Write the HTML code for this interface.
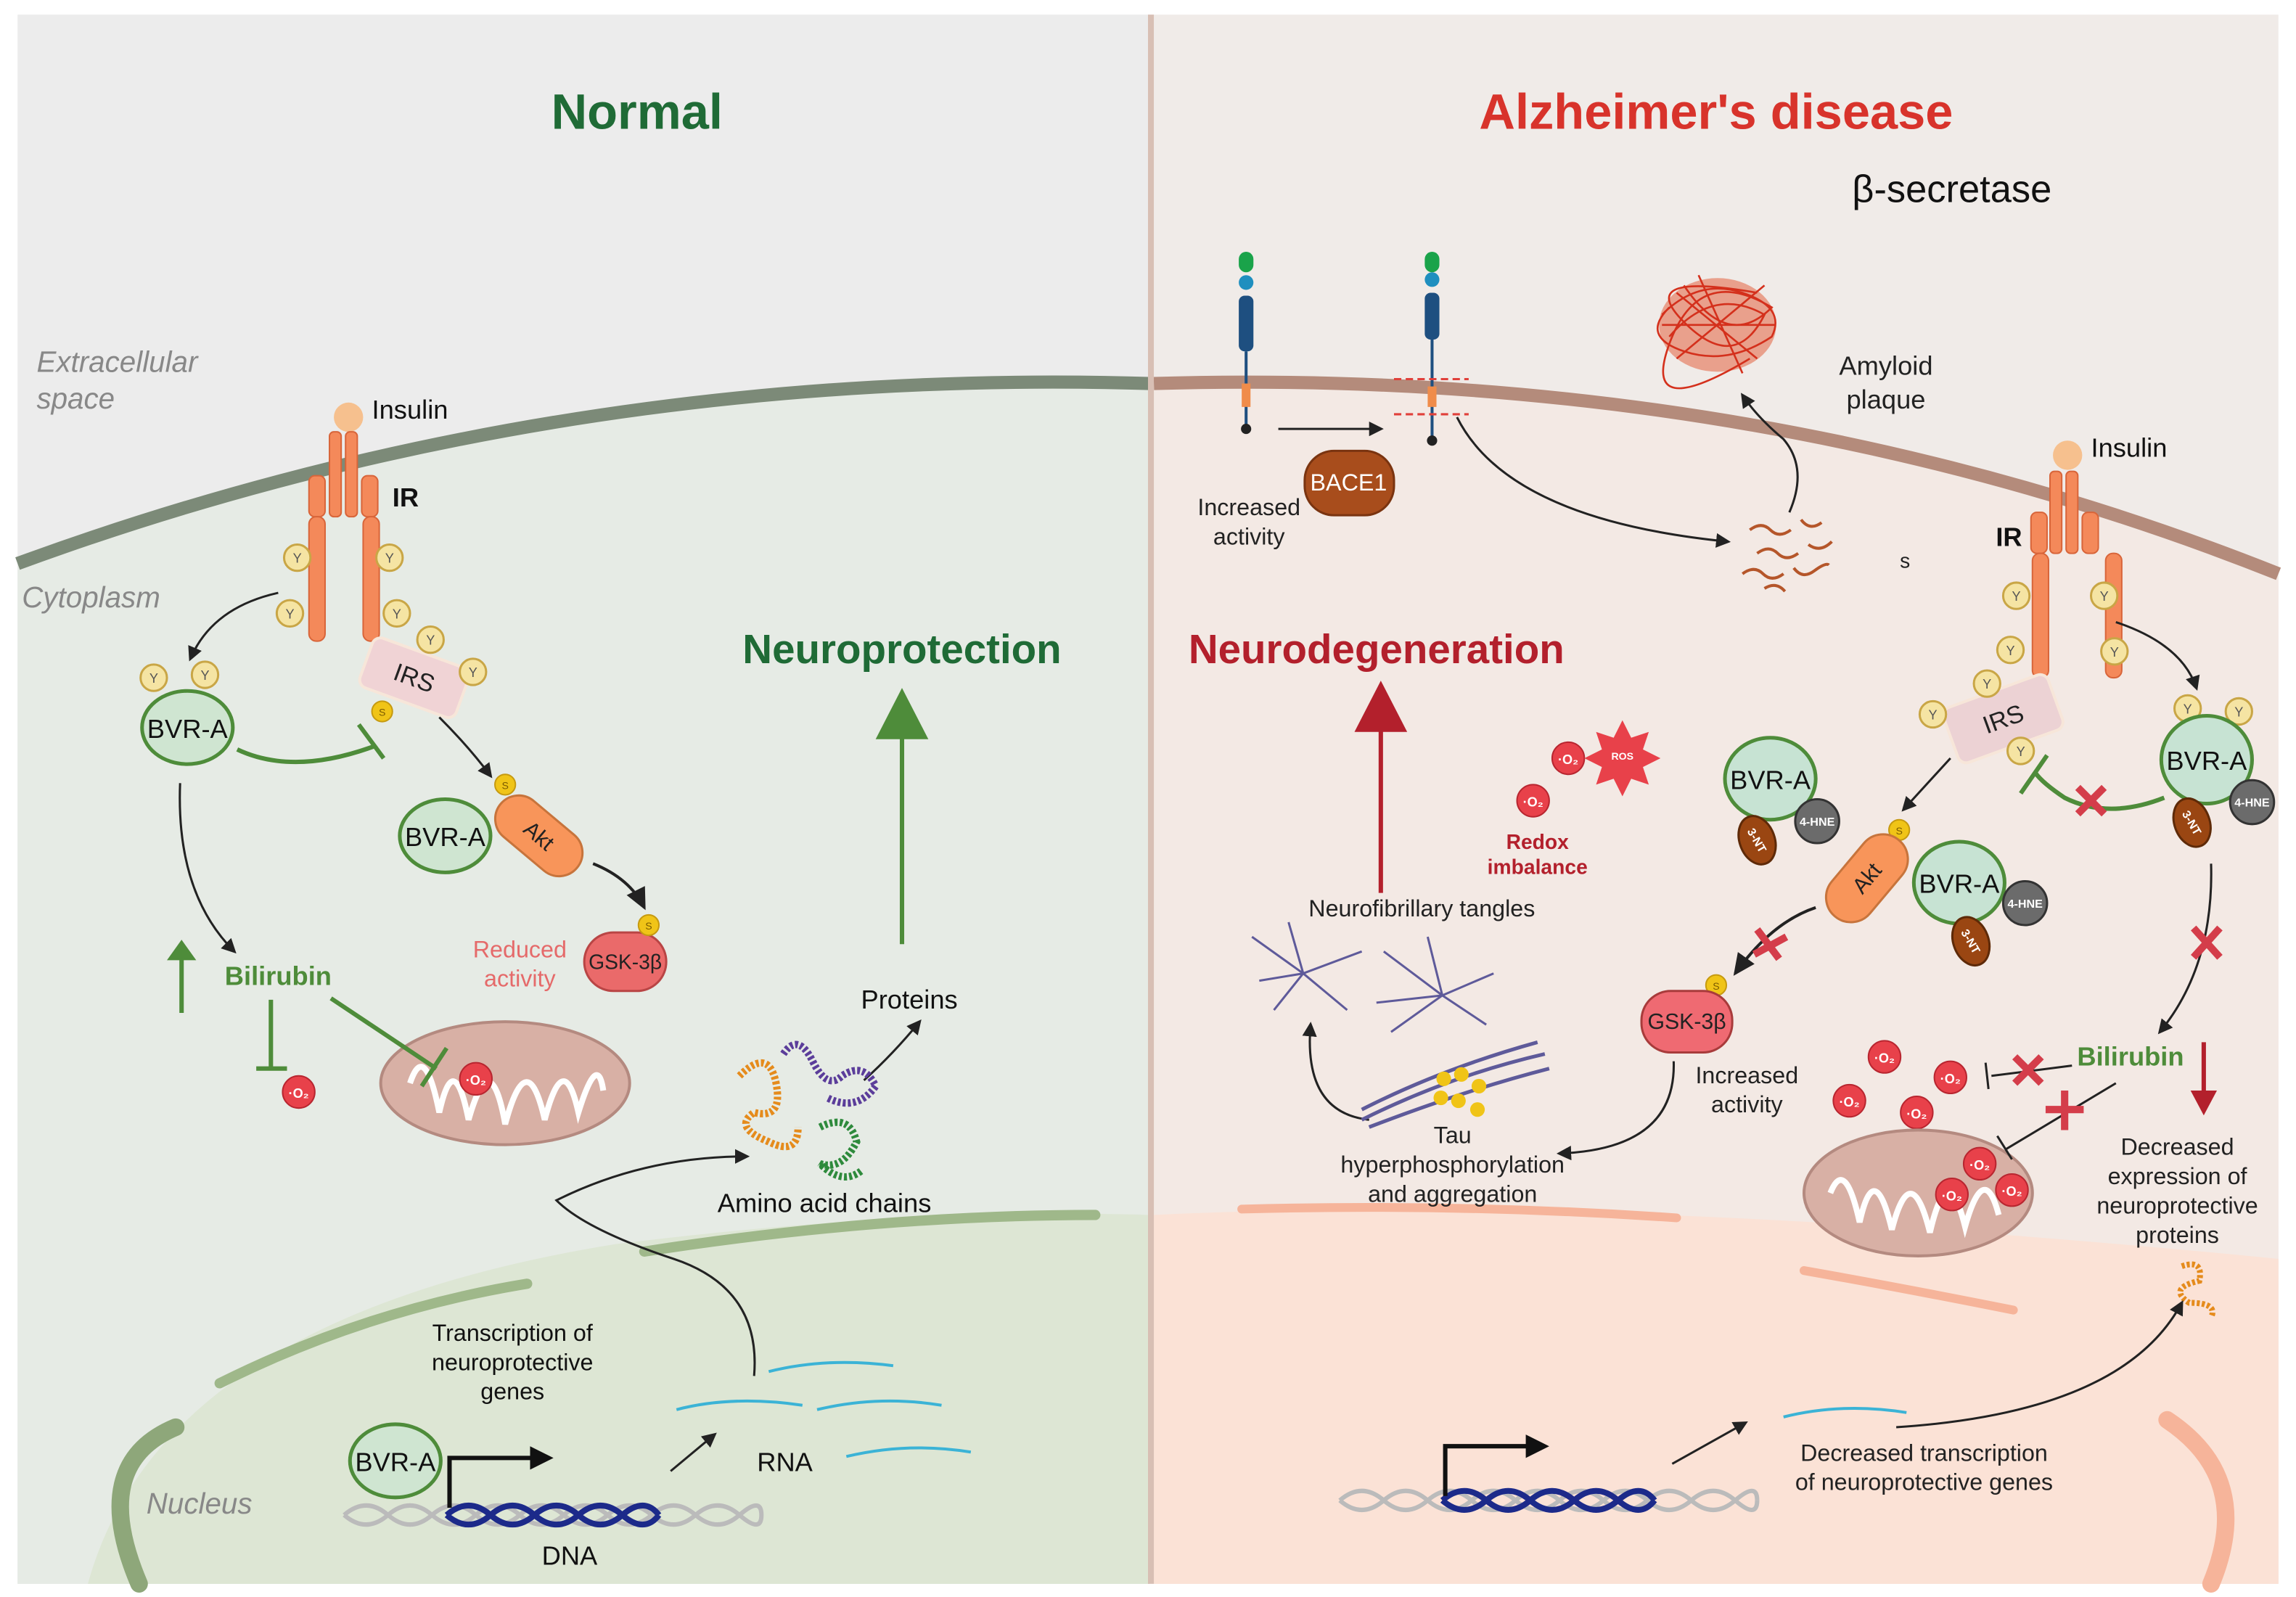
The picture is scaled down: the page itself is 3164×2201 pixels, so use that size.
<!DOCTYPE html>
<html><head><meta charset="utf-8"><style>
html,body{margin:0;padding:0;background:#fff;}
svg{display:block;font-family:"Liberation Sans",sans-serif;}
</style></head><body>
<svg width="3164" height="2201" viewBox="0 0 1568 1091" preserveAspectRatio="none" xmlns="http://www.w3.org/2000/svg">
<defs>
<marker id="ar" markerWidth="10" markerHeight="10" refX="8" refY="5" orient="auto" markerUnits="userSpaceOnUse"><path d="M0,0 L10,5 L0,10 z" fill="#222"/></marker>
<marker id="arb" markerWidth="16" markerHeight="16" refX="13" refY="8" orient="auto" markerUnits="userSpaceOnUse"><path d="M0,1 L15,8 L0,15 z" fill="#222"/></marker>
<g id="Y"><circle r="9" fill="#f5e4a3" stroke="#c9a646" stroke-width="1.5"/><text y="3.5" font-size="9" text-anchor="middle" fill="#555">Y</text></g>
<g id="S"><circle r="7" fill="#f0c417" stroke="#c69a10"/><text y="3" font-size="7" text-anchor="middle" fill="#7a5a00">S</text></g>
<g id="O2"><circle r="11" fill="#e8414a" stroke="#b82630"/><text y="4" font-size="9" text-anchor="middle" fill="#fff" font-weight="bold">·O₂</text></g>
</defs>
<rect width="1568" height="1091" fill="#fff"/>
<!-- LEFT panel -->
<rect x="12" y="10" width="773" height="1072" fill="#ececec"/>
<path d="M12,385 Q380,250 785,262 L785,1082 L12,1082 Z" fill="#e6ebe5"/>
<path d="M12,385 Q380,250 785,262" fill="none" stroke="#7c8a78" stroke-width="9"/>
<path d="M60,1082 Q110,900 420,850 Q620,825 785,830 L785,1082 Z" fill="#dde6d4"/>
<path d="M95,1082 Q60,1000 120,975" fill="none" stroke="#8ea77a" stroke-width="12" stroke-linecap="round"/>
<path d="M150,945 Q250,895 360,877" fill="none" stroke="#9fb88a" stroke-width="7" stroke-linecap="round"/>
<path d="M440,855 Q600,830 748,830" fill="none" stroke="#9fb88a" stroke-width="7" stroke-linecap="round"/>
<!-- RIGHT panel -->
<rect x="788" y="10" width="768" height="1072" fill="#f0ebe8"/>
<path d="M788,262 Q1200,250 1556,392 L1556,1082 L788,1082 Z" fill="#f3e9e4"/>
<path d="M788,262 Q1200,250 1556,392" fill="none" stroke="#b48b7b" stroke-width="9"/>
<path d="M788,830 Q1100,815 1556,860 L1556,1082 L788,1082 Z" fill="#fbe2d6"/>
<path d="M848,826 Q1000,822 1145,832" fill="none" stroke="#f6b49a" stroke-width="6" stroke-linecap="round"/>
<path d="M1232,868 Q1300,880 1375,895" fill="none" stroke="#f6b49a" stroke-width="6" stroke-linecap="round"/>
<path d="M1480,970 Q1540,1010 1510,1082" fill="none" stroke="#f6b49a" stroke-width="12" stroke-linecap="round"/>
<line x1="786" y1="10" x2="786" y2="1082" stroke="#d8bfb4" stroke-width="4"/>

<!-- Titles -->
<text x="435" y="88" font-size="34" font-weight="bold" fill="#1f6b36" text-anchor="middle">Normal</text>
<text x="1172" y="88" font-size="34" font-weight="bold" fill="#d8332b" text-anchor="middle">Alzheimer's disease</text>
<text x="1333" y="138" font-size="26" fill="#111" text-anchor="middle">β-secretase</text>
<text x="616" y="453" font-size="28" font-weight="bold" fill="#1f6b36" text-anchor="middle">Neuroprotection</text>
<text x="940" y="453" font-size="28" font-weight="bold" fill="#b3202c" text-anchor="middle">Neurodegeneration</text>

<!-- LEFT labels -->
<g font-style="italic" fill="#888" font-size="20">
<text x="25" y="254">Extracellular</text><text x="25" y="279">space</text>
<text x="15" y="415">Cytoplasm</text>
<text x="100" y="1034">Nucleus</text></g>

<!-- left receptor -->
<circle cx="238" cy="285" r="10" fill="#f6c08e"/>
<text x="254" y="286" font-size="18" fill="#111">Insulin</text>
<text x="268" y="346" font-size="18" font-weight="bold" fill="#111">IR</text>
<g fill="#f4895a" stroke="#d8653a" stroke-width="1">
<rect x="225" y="295" width="8" height="58" rx="3"/><rect x="236" y="295" width="8" height="58" rx="3"/>
<rect x="211" y="325" width="11" height="28" rx="4"/><rect x="247" y="325" width="11" height="28" rx="4"/>
<rect x="211" y="353" width="11" height="85" rx="5"/><rect x="248" y="353" width="11" height="85" rx="5"/></g>
<use href="#Y" x="203" y="381"/><use href="#Y" x="266" y="381"/><use href="#Y" x="198" y="419"/><use href="#Y" x="271" y="419"/>
<g transform="translate(283,463) rotate(20)"><rect x="-35" y="-18" width="70" height="36" rx="6" fill="#f0d3d5" stroke="#f7e6d9" stroke-width="2"/><text y="6" font-size="17" text-anchor="middle" fill="#222">IRS</text></g>
<use href="#Y" x="294" y="437"/><use href="#Y" x="323" y="459"/><use href="#S" x="261" y="486"/>
<path d="M190,405 Q145,415 130,450" fill="none" stroke="#222" stroke-width="1.5" marker-end="url(#ar)"/>
<use href="#Y" x="105" y="463"/><use href="#Y" x="140" y="461"/>
<ellipse cx="128" cy="497" rx="31" ry="25" fill="#cfe5d1" stroke="#4e8c3a" stroke-width="2.5"/>
<text x="128" y="504" font-size="18" text-anchor="middle" fill="#111">BVR-A</text>
<path d="M162,512 Q200,530 255,510" fill="none" stroke="#4e8c3a" stroke-width="3"/>
<line x1="245" y1="495" x2="262" y2="518" stroke="#4e8c3a" stroke-width="3"/>
<path d="M300,490 Q320,510 335,530" fill="none" stroke="#222" stroke-width="1.5" marker-end="url(#ar)"/>
<ellipse cx="304" cy="571" rx="31" ry="25" fill="#cfe5d1" stroke="#4e8c3a" stroke-width="2.5"/>
<text x="304" y="578" font-size="18" text-anchor="middle" fill="#111">BVR-A</text>
<g transform="translate(368,571) rotate(40)"><rect x="-34" y="-16" width="68" height="32" rx="16" fill="#f8955a" stroke="#c7743c" stroke-width="1.5"/><text y="5" font-size="15" text-anchor="middle" fill="#222">Akt</text></g>
<use href="#S" x="345" y="536"/>
<path d="M405,590 Q430,600 440,620" fill="none" stroke="#222" stroke-width="2" marker-end="url(#arb)"/>
<rect x="399" y="637" width="56" height="40" rx="20" fill="#ea6a6a" stroke="#b94545" stroke-width="1.5"/>
<text x="427" y="662" font-size="14" text-anchor="middle" fill="#222">GSK-3β</text>
<use href="#S" x="443" y="632"/>
<text x="355" y="654" font-size="16" fill="#e56a6a" text-anchor="middle">Reduced</text>
<text x="355" y="674" font-size="16" fill="#e56a6a" text-anchor="middle">activity</text>
<path d="M123,535 Q120,610 160,650" fill="none" stroke="#222" stroke-width="1.5" marker-end="url(#ar)"/>
<text x="190" y="673" font-size="18" font-weight="bold" fill="#4e8c3a" text-anchor="middle">Bilirubin</text>
<line x1="124" y1="692" x2="124" y2="650" stroke="#4e8c3a" stroke-width="3"/>
<path d="M114,656 L124,642 L134,656 z" fill="#4e8c3a"/>
<line x1="185" y1="683" x2="185" y2="730" stroke="#4e8c3a" stroke-width="3"/>
<line x1="175" y1="730" x2="196" y2="730" stroke="#4e8c3a" stroke-width="3"/>
<use href="#O2" x="204" y="746"/>
<ellipse cx="345" cy="740" rx="85" ry="42" fill="#d8b0a5" stroke="#b48a80" stroke-width="2"/>
<path d="M280,740 Q290,710 300,760 Q310,715 320,765 Q335,712 345,768 Q360,712 372,765 Q385,715 395,760 Q408,718 412,745" fill="none" stroke="#fff" stroke-width="4"/>
<line x1="226" y1="682" x2="298" y2="730" stroke="#4e8c3a" stroke-width="3"/>
<line x1="288" y1="742" x2="305" y2="716" stroke="#4e8c3a" stroke-width="3"/>
<use href="#O2" x="325" y="737"/>
<!-- neuroprotection arrow -->
<line x1="616" y1="645" x2="616" y2="495" stroke="#4e8c3a" stroke-width="3"/>
<path d="M598,505 L616,470 L634,505 z" fill="#4e8c3a"/>
<text x="621" y="689" font-size="18" fill="#111" text-anchor="middle">Proteins</text>
<path d="M590,738 Q610,720 628,698" fill="none" stroke="#222" stroke-width="1.5" marker-end="url(#ar)"/>
<g fill="none" stroke-width="5" stroke-dasharray="2 1.5">
<path d="M505,735 Q525,715 530,740 Q535,765 515,760 Q500,770 525,780 Q545,790 545,770" stroke="#e58b1c"/>
<path d="M535,720 Q545,705 555,725 Q565,745 575,735 Q590,725 598,742 Q585,760 565,750" stroke="#5b3d9a"/>
<path d="M560,770 Q580,760 585,780 Q575,800 560,795 Q575,810 588,800" stroke="#2e8a3c"/></g>
<text x="563" y="828" font-size="18" fill="#111" text-anchor="middle">Amino acid chains</text>
<!-- nucleus left -->
<text x="350" y="916" font-size="16" fill="#111" text-anchor="middle">Transcription of</text>
<text x="350" y="936" font-size="16" fill="#111" text-anchor="middle">neuroprotective</text>
<text x="350" y="956" font-size="16" fill="#111" text-anchor="middle">genes</text>
<path d="M515,940 Q520,880 460,860 Q400,840 380,820 Q440,790 510,790" fill="none" stroke="#222" stroke-width="1.5" marker-end="url(#ar)"/>
<g fill="none" stroke-width="3">
<path d="M235,1035 Q250,1022 265,1035 T295,1035 T325,1035 T355,1035 T385,1035 T415,1035 T445,1035 T475,1035 T505,1035 T520,1035" stroke="#bbb"/>
<path d="M235,1035 Q250,1048 265,1035 T295,1035 T325,1035 T355,1035 T385,1035 T415,1035 T445,1035 T475,1035 T505,1035 T520,1035" stroke="#bbb"/>
<path d="M305,1035 Q320,1022 335,1035 T365,1035 T395,1035 T425,1035 T450,1035" stroke="#1c2a8a" stroke-width="4"/>
<path d="M305,1035 Q320,1048 335,1035 T365,1035 T395,1035 T425,1035 T450,1035" stroke="#1c2a8a" stroke-width="4"/></g>
<ellipse cx="270" cy="998" rx="31" ry="25" fill="#cfe5d1" stroke="#4e8c3a" stroke-width="2.5"/>
<text x="270" y="1005" font-size="18" text-anchor="middle" fill="#111">BVR-A</text>
<path d="M307,1030 L307,996 L365,996" fill="none" stroke="#111" stroke-width="3"/>
<path d="M362,988 L378,996 L362,1004 z" fill="#111"/>
<text x="389" y="1069" font-size="18" fill="#111" text-anchor="middle">DNA</text>
<path d="M458,1005 L488,980" stroke="#222" stroke-width="1.5" marker-end="url(#ar)"/>
<text x="536" y="1005" font-size="18" fill="#111" text-anchor="middle">RNA</text>
<g fill="none" stroke="#3bb3d6" stroke-width="2">
<path d="M525,937 Q565,927 610,933"/><path d="M462,963 Q500,953 548,960"/><path d="M558,963 Q600,953 643,960"/><path d="M578,995 Q620,985 663,992"/></g>

<!-- RIGHT -->
<!-- APP receptors -->
<g>
<rect x="846" y="172" width="10" height="14" rx="5" fill="#1aa34a"/><circle cx="851" cy="193" r="5" fill="#1f8fbf"/><rect x="846" y="202" width="10" height="38" rx="4" fill="#1e4f80"/>
<line x1="851" y1="240" x2="851" y2="292" stroke="#1e4f80" stroke-width="2"/><rect x="848" y="262" width="6" height="16" fill="#f08c4a"/><circle cx="851" cy="293" r="3.5" fill="#222"/>
<rect x="973" y="172" width="10" height="14" rx="5" fill="#1aa34a"/><circle cx="978" cy="191" r="5" fill="#1f8fbf"/><rect x="973" y="200" width="10" height="32" rx="4" fill="#1e4f80"/>
<line x1="978" y1="232" x2="978" y2="300" stroke="#1e4f80" stroke-width="2"/><rect x="975" y="264" width="6" height="14" fill="#f08c4a"/><circle cx="978" cy="301" r="3.5" fill="#222"/>
<line x1="952" y1="259" x2="1003" y2="259" stroke="#e0403a" stroke-width="1.5" stroke-dasharray="5 3"/>
<line x1="952" y1="283" x2="1003" y2="283" stroke="#e0403a" stroke-width="1.5" stroke-dasharray="5 3"/></g>
<line x1="873" y1="293" x2="943" y2="293" stroke="#222" stroke-width="1.5" marker-end="url(#ar)"/>
<rect x="891" y="308" width="61" height="44" rx="20" fill="#a84d1c" stroke="#7a3410" stroke-width="1.5"/>
<text x="921" y="335" font-size="16" fill="#fff" text-anchor="middle">BACE1</text>
<text x="853" y="352" font-size="16" fill="#222" text-anchor="middle">Increased</text>
<text x="853" y="372" font-size="16" fill="#222" text-anchor="middle">activity</text>
<path d="M995,285 Q1030,355 1180,370" fill="none" stroke="#222" stroke-width="1.5" marker-end="url(#ar)"/>
<g stroke="#b5562a" stroke-width="2" fill="none">
<path d="M1195,362 q8,-6 14,0 t14,0"/><path d="M1230,355 q6,8 14,2"/><path d="M1200,378 q8,-6 14,0 t14,0"/><path d="M1235,372 q8,6 16,-2"/><path d="M1190,392 q8,-6 14,0 t14,0"/><path d="M1225,388 q6,8 14,2 t10,-4"/><path d="M1205,402 q8,-5 14,2"/></g>
<text x="1301" y="388" font-size="14" fill="#222" text-anchor="middle">s</text>
<path d="M1222,350 Q1235,320 1218,300 Q1200,285 1190,270" fill="none" stroke="#222" stroke-width="1.5" marker-end="url(#ar)"/>
<g stroke="#d4301c" stroke-width="1.3" fill="none">
<ellipse cx="1173" cy="222" rx="40" ry="32" fill="#e2552f" opacity="0.5" stroke="none"/>
<path d="M1135,215 Q1160,190 1190,200 T1210,230 Q1180,250 1150,240 T1140,210"/>
<path d="M1140,230 Q1170,195 1205,215 Q1185,255 1150,220 T1200,200"/>
<path d="M1150,195 Q1180,240 1210,210 Q1160,180 1140,235 T1195,245"/>
<path d="M1160,188 L1190,255 M1135,222 L1212,222 M1145,200 L1200,245 M1145,245 L1205,195"/></g>
<text x="1288" y="256" font-size="18" fill="#222" text-anchor="middle">Amyloid</text>
<text x="1288" y="279" font-size="18" fill="#222" text-anchor="middle">plaque</text>
<!-- right receptor -->
<circle cx="1412" cy="311" r="10" fill="#f6c08e"/>
<text x="1428" y="312" font-size="18" fill="#111">Insulin</text>
<text x="1363" y="373" font-size="18" font-weight="bold" fill="#111">IR</text>
<g fill="#f4895a" stroke="#d8653a" stroke-width="1">
<rect x="1400" y="322" width="8" height="56" rx="3"/><rect x="1411" y="322" width="8" height="56" rx="3"/>
<rect x="1387" y="350" width="11" height="28" rx="4"/><rect x="1422" y="350" width="11" height="28" rx="4"/>
<rect x="1388" y="378" width="11" height="85" rx="5"/><rect x="1438" y="378" width="11" height="85" rx="5"/></g>
<use href="#Y" x="1377" y="407"/><use href="#Y" x="1437" y="407"/><use href="#Y" x="1373" y="444"/><use href="#Y" x="1444" y="445"/>
<g transform="translate(1368,491) rotate(-20)"><rect x="-38" y="-20" width="76" height="40" rx="6" fill="#ecd2d4" stroke="#f7e6d9" stroke-width="2"/><text y="6" font-size="17" text-anchor="middle" fill="#222">IRS</text></g>
<use href="#Y" x="1357" y="467"/><use href="#Y" x="1320" y="488"/><use href="#Y" x="1380" y="513"/>
<path d="M1445,425 Q1490,440 1500,470" fill="none" stroke="#222" stroke-width="1.5" marker-end="url(#ar)"/>
<use href="#Y" x="1494" y="484"/><use href="#Y" x="1529" y="486"/>
<g id="bv1"><ellipse cx="1507" cy="519" rx="31" ry="30" fill="#c7e3d3" stroke="#4e8c3a" stroke-width="2.5"/>
<text x="1507" y="526" font-size="18" text-anchor="middle" fill="#111">BVR-A</text></g>
<circle cx="1538" cy="548" r="15" fill="#6b6b6b" stroke="#333" stroke-width="1.5"/><text x="1538" y="551" font-size="8" font-weight="bold" fill="#fff" text-anchor="middle">4-HNE</text>
<ellipse cx="1497" cy="562" rx="12" ry="17" transform="rotate(-20 1497 562)" fill="#9a4612" stroke="#5e2a08" stroke-width="1.5"/><text x="1497" y="565" font-size="8" font-weight="bold" fill="#fff" text-anchor="middle" transform="rotate(60 1497 562)">3-NT</text>
<path d="M1478,545 Q1440,560 1410,545 Q1395,535 1390,528" fill="none" stroke="#4e8c3a" stroke-width="3"/>
<line x1="1380" y1="542" x2="1398" y2="516" stroke="#4e8c3a" stroke-width="3"/>
<g stroke="#d43d4a" stroke-width="5"><line x1="1419" y1="538" x2="1437" y2="556"/><line x1="1437" y1="538" x2="1419" y2="556"/></g>
<!-- left BVR-A group right side -->
<ellipse cx="1209" cy="532" rx="31" ry="28" fill="#c7e3d3" stroke="#4e8c3a" stroke-width="2.5"/>
<text x="1209" y="539" font-size="18" text-anchor="middle" fill="#111">BVR-A</text>
<circle cx="1241" cy="561" r="15" fill="#6b6b6b" stroke="#333" stroke-width="1.5"/><text x="1241" y="564" font-size="8" font-weight="bold" fill="#fff" text-anchor="middle">4-HNE</text>
<ellipse cx="1200" cy="574" rx="12" ry="17" transform="rotate(-20 1200 574)" fill="#9a4612" stroke="#5e2a08" stroke-width="1.5"/><text x="1200" y="577" font-size="8" font-weight="bold" fill="#fff" text-anchor="middle" transform="rotate(60 1200 574)">3-NT</text>
<line x1="1332" y1="518" x2="1300" y2="553" stroke="#222" stroke-width="1.5" marker-end="url(#ar)"/>
<use href="#S" x="1297" y="567"/>
<g transform="translate(1275,600) rotate(-50)"><rect x="-34" y="-17" width="68" height="34" rx="17" fill="#f8955a" stroke="#c7743c" stroke-width="1.5"/><text y="5" font-size="15" text-anchor="middle" fill="#222">Akt</text></g>
<ellipse cx="1338" cy="603" rx="31" ry="28" fill="#c7e3d3" stroke="#4e8c3a" stroke-width="2.5"/>
<text x="1338" y="610" font-size="18" text-anchor="middle" fill="#111">BVR-A</text>
<circle cx="1383" cy="617" r="15" fill="#6b6b6b" stroke="#333" stroke-width="1.5"/><text x="1383" y="620" font-size="8" font-weight="bold" fill="#fff" text-anchor="middle">4-HNE</text>
<ellipse cx="1346" cy="643" rx="12" ry="17" transform="rotate(-20 1346 643)" fill="#9a4612" stroke="#5e2a08" stroke-width="1.5"/><text x="1346" y="646" font-size="8" font-weight="bold" fill="#fff" text-anchor="middle" transform="rotate(60 1346 643)">3-NT</text>
<path d="M1240,620 Q1210,630 1185,665" fill="none" stroke="#222" stroke-width="2" marker-end="url(#arb)"/>
<g stroke="#d43d4a" stroke-width="5"><line x1="1200" y1="635" x2="1215" y2="655"/><line x1="1198" y1="652" x2="1220" y2="640"/></g>
<use href="#S" x="1172" y="673"/>
<rect x="1121" y="677" width="62" height="42" rx="20" fill="#ef6a72" stroke="#a83b3b" stroke-width="1.5"/>
<text x="1152" y="703" font-size="15" text-anchor="middle" fill="#222">GSK-3β</text>
<text x="1193" y="740" font-size="16" fill="#222" text-anchor="middle">Increased</text>
<text x="1193" y="760" font-size="16" fill="#222" text-anchor="middle">activity</text>
<path d="M1143,725 Q1145,785 1065,788" fill="none" stroke="#222" stroke-width="1.5" marker-end="url(#ar)"/>
<!-- redox -->
<use href="#O2" x="1071" y="518"/><use href="#O2" x="1047" y="547"/>
<path d="M1108,492 l6,12 l12,-4 l-4,12 l12,6 l-12,6 l4,12 l-12,-4 l-6,12 l-6,-12 l-12,4 l4,-12 l-12,-6 l12,-6 l-4,-12 l12,4 z" fill="#e8414a"/>
<text x="1108" y="519" font-size="7" fill="#fff" text-anchor="middle" font-weight="bold">ROS</text>
<text x="1050" y="580" font-size="14" font-weight="bold" fill="#b3202c" text-anchor="middle">Redox</text>
<text x="1050" y="597" font-size="14" font-weight="bold" fill="#b3202c" text-anchor="middle">imbalance</text>
<!-- neurodegeneration arrow -->
<line x1="943" y1="610" x2="943" y2="495" stroke="#b3202c" stroke-width="3"/>
<path d="M925,500 L943,465 L961,500 z" fill="#b3202c"/>
<text x="971" y="626" font-size="16" fill="#222" text-anchor="middle">Neurofibrillary tangles</text>
<g stroke="#5e5a9a" stroke-width="1.5" fill="none">
<path d="M855,640 L890,665 L930,650 M870,690 L890,665 L880,630 M890,665 L920,690 M860,670 L890,665"/>
<path d="M945,650 L985,680 L1020,665 M950,705 L985,680 L975,640 M985,680 L1015,700 M940,685 L985,680"/></g>
<path d="M935,765 Q890,760 895,700" fill="none" stroke="#222" stroke-width="1.5" marker-end="url(#ar)"/>
<g stroke="#5e5a9a" stroke-width="2.5" fill="none">
<path d="M930,765 Q990,735 1055,720"/><path d="M935,770 Q1000,745 1058,730"/><path d="M930,758 Q985,730 1050,712"/></g>
<g><circle cx="986" cy="737" r="5" fill="#f0c417"/><circle cx="998" cy="734" r="5" fill="#f0c417"/><circle cx="1010" cy="742" r="5" fill="#f0c417"/><circle cx="984" cy="750" r="5" fill="#f0c417"/><circle cx="996" cy="752" r="5" fill="#f0c417"/><circle cx="1009" cy="758" r="5" fill="#f0c417"/></g>
<text x="992" y="781" font-size="16" fill="#222" text-anchor="middle">Tau</text>
<text x="992" y="801" font-size="16" fill="#222" text-anchor="middle">hyperphosphorylation</text>
<text x="992" y="821" font-size="16" fill="#222" text-anchor="middle">and aggregation</text>
<!-- bilirubin right -->
<path d="M1510,590 Q1512,660 1475,705" fill="none" stroke="#222" stroke-width="1.5" marker-end="url(#ar)"/>
<g stroke="#d43d4a" stroke-width="5"><line x1="1498" y1="634" x2="1516" y2="654"/><line x1="1516" y1="634" x2="1498" y2="654"/></g>
<text x="1455" y="728" font-size="18" font-weight="bold" fill="#4e8c3a" text-anchor="middle">Bilirubin</text>
<line x1="1505" y1="712" x2="1505" y2="752" stroke="#b3202c" stroke-width="3"/>
<path d="M1496,745 L1505,762 L1514,745 z" fill="#b3202c"/>
<line x1="1415" y1="728" x2="1360" y2="735" stroke="#222" stroke-width="1.5"/>
<line x1="1356" y1="726" x2="1358" y2="744" stroke="#222" stroke-width="1.5"/>
<g stroke="#d43d4a" stroke-width="5"><line x1="1376" y1="722" x2="1394" y2="740"/><line x1="1394" y1="722" x2="1376" y2="740"/></g>
<use href="#O2" x="1287" y="722"/><use href="#O2" x="1332" y="736"/><use href="#O2" x="1263" y="752"/><use href="#O2" x="1309" y="760"/>
<ellipse cx="1310" cy="815" rx="78" ry="43" fill="#d8b0a5" stroke="#b48a80" stroke-width="2"/>
<path d="M1250,815 Q1260,790 1270,835 Q1280,790 1292,840 Q1305,790 1318,842 Q1330,790 1342,838 Q1355,792 1365,830" fill="none" stroke="#fff" stroke-width="4"/>
<use href="#O2" x="1352" y="795"/><use href="#O2" x="1374" y="813"/><use href="#O2" x="1333" y="816"/>
<line x1="1445" y1="740" x2="1370" y2="785" stroke="#222" stroke-width="1.5"/>
<line x1="1364" y1="776" x2="1374" y2="792" stroke="#222" stroke-width="1.5"/>
<g stroke="#d43d4a" stroke-width="5"><line x1="1410" y1="745" x2="1410" y2="772"/><line x1="1397" y1="758" x2="1423" y2="758"/></g>
<text x="1487" y="789" font-size="16" fill="#222" text-anchor="middle">Decreased</text>
<text x="1487" y="809" font-size="16" fill="#222" text-anchor="middle">expression of</text>
<text x="1487" y="829" font-size="16" fill="#222" text-anchor="middle">neuroprotective</text>
<text x="1487" y="849" font-size="16" fill="#222" text-anchor="middle">proteins</text>
<path d="M1490,865 Q1505,860 1502,875 Q1480,880 1495,890 Q1515,890 1510,900" fill="none" stroke="#e58b1c" stroke-width="4" stroke-dasharray="2 1.5"/>
<!-- right nucleus DNA -->
<g fill="none" stroke-width="3">
<path d="M915,1025 Q930,1012 945,1025 T975,1025 T1005,1025 T1035,1025 T1065,1025 T1095,1025 T1125,1025 T1155,1025 T1185,1025 T1200,1025" stroke="#bbb"/>
<path d="M915,1025 Q930,1038 945,1025 T975,1025 T1005,1025 T1035,1025 T1065,1025 T1095,1025 T1125,1025 T1155,1025 T1185,1025 T1200,1025" stroke="#bbb"/>
<path d="M985,1025 Q1000,1012 1015,1025 T1045,1025 T1075,1025 T1105,1025 T1130,1025" stroke="#1c2a8a" stroke-width="4"/>
<path d="M985,1025 Q1000,1038 1015,1025 T1045,1025 T1075,1025 T1105,1025 T1130,1025" stroke="#1c2a8a" stroke-width="4"/></g>
<path d="M987,1022 L987,988 L1045,988" fill="none" stroke="#111" stroke-width="3"/>
<path d="M1042,980 L1058,988 L1042,996 z" fill="#111"/>
<path d="M1142,1000 L1192,972" stroke="#222" stroke-width="1.5" marker-end="url(#ar)"/>
<path d="M1218,968 Q1258,958 1302,965" fill="none" stroke="#3bb3d6" stroke-width="2"/>
<text x="1314" y="998" font-size="16" fill="#222" text-anchor="middle">Decreased transcription</text>
<text x="1314" y="1018" font-size="16" fill="#222" text-anchor="middle">of neuroprotective genes</text>
<path d="M1295,975 Q1450,965 1490,890" fill="none" stroke="#222" stroke-width="1.5" marker-end="url(#ar)"/>
</svg>
</body></html>
